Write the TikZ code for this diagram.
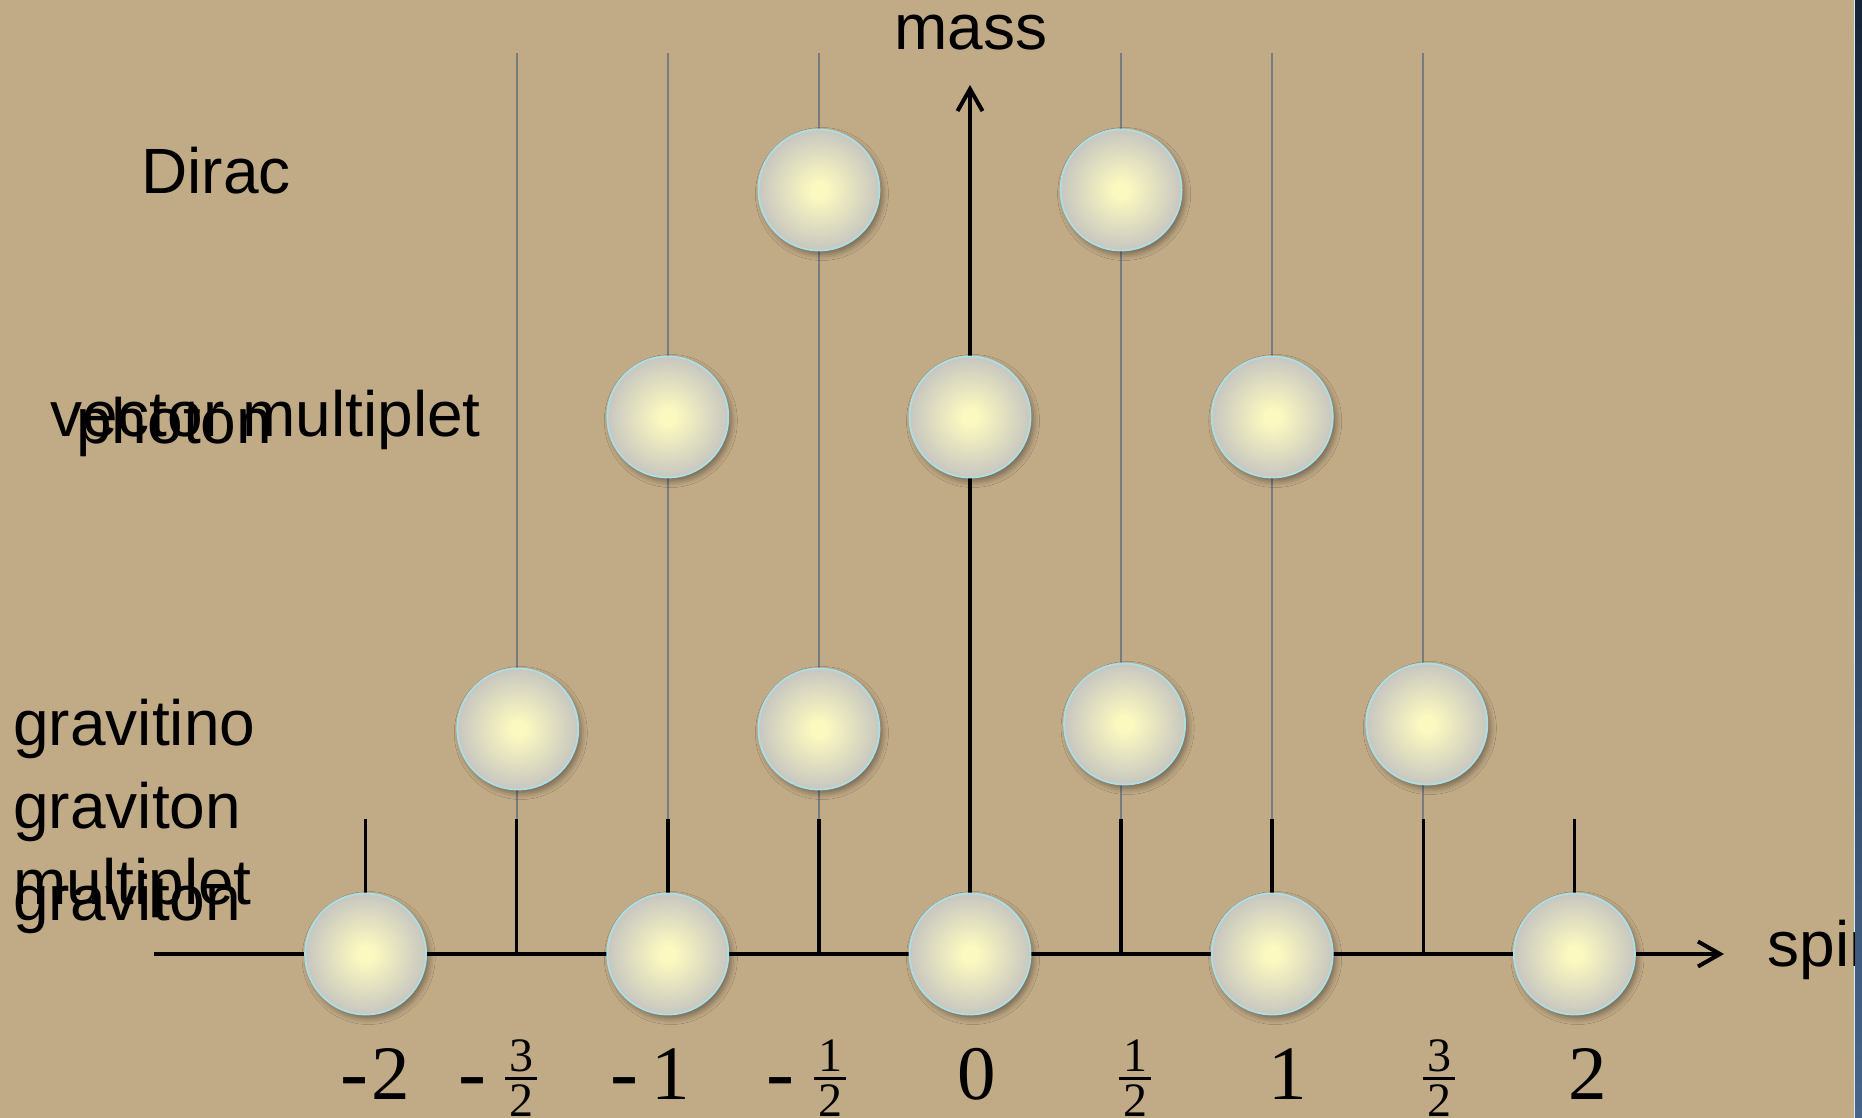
\documentclass[tikz,border=0pt]{standalone}
\usepackage{fontspec}
\setmainfont{Liberation Sans}
\newfontfamily\serifnum{Liberation Serif}
\usetikzlibrary{arrows.meta,shadows.blur}
\definecolor{bg}{RGB}{193,170,134}
\definecolor{ballin}{RGB}{252,249,192}
\definecolor{ballout}{RGB}{192,192,192}
\definecolor{ballrim}{RGB}{172,222,230}
\definecolor{thingray}{RGB}{120,124,130}
\definecolor{stripA}{RGB}{22,36,56}
\definecolor{stripB}{RGB}{70,100,138}
\pgfdeclareradialshading{ballshade}{\pgfpointorigin}{color(0bp)=(ballin); color(3bp)=(ballin); color(28bp)=(ballout); color(50bp)=(ballout)}
\begin{document}
\begin{tikzpicture}[x=0.5pt,y=-0.5pt,
  ball/.style={circle, minimum size=60.5pt, inner sep=0pt, draw=ballrim, line width=0.9pt, shading=ballshade,
    blur shadow={shadow xshift=1.5pt, shadow yshift=-2pt, shadow blur radius=3pt, shadow opacity=40}},
  lbl/.style={anchor=base west, inner sep=0pt, font=\fontsize{32}{38}\selectfont},
  bignum/.style={anchor=base, inner sep=0pt, font=\serifnum\fontsize{38.5}{46}\selectfont},
  minussign/.style={anchor=base, inner sep=0pt, font=\serifnum\fontsize{42}{50}\selectfont},
  smallnum/.style={anchor=base, inner sep=0pt, font=\serifnum\fontsize{24}{29}\selectfont},
  fracbar/.style={draw=black, line width=1.5pt},
  guide/.style={draw=thingray, line width=1pt},
  tickmark/.style={draw=black, line width=1.75pt},
  axisline/.style={draw=black, line width=2pt, -{Straight Barb[length=11pt,width=12.5pt]}}
]
\useasboundingbox (0,0) rectangle (1862,1118);
\fill[bg] (0,0) rectangle (1862,1118);
% right edge strip
\fill[top color=stripA, bottom color=stripB] (1855,0) rectangle (1862,1118);
\draw[draw=ballrim!50!white, line width=0.6pt] (1854.6,0) -- (1854.6,1118);

% coordinates
\foreach \n/\x in {m4/365.6, m3/516.7, m2/667.8, m1/818.9, z0/970, p1/1121.1, p2/1272.2, p3/1423.3, p4/1574.4}{
  \coordinate (top\n) at (\x,53);
  \coordinate (tk\n) at (\x,819);
  \coordinate (ax\n) at (\x,954);
}
% thin guide lines
\foreach \n in {m3,m2,m1,p1,p2,p3}{
  \draw[guide] (top\n) -- (tk\n);
}
% ticks
\foreach \n in {m4,m3,m2,m1,p1,p2,p3,p4}{
  \draw[tickmark] (tk\n) -- (ax\n);
}
% axes
\coordinate (hstart) at (154,954);
\coordinate (hend) at (1724,954);
\coordinate (vend) at (970,85);
\draw[axisline] (hstart) -- (hend);
\draw[axisline] (axz0) -- (vend);

% balls
\node[ball] (d1) at (818.9,190) {};
\node[ball] (d2) at (1121.1,190) {};
\node[ball] (v1) at (667.8,417) {};
\node[ball] (v2) at (970,417) {};
\node[ball] (v3) at (1272.2,417) {};
\node[ball] (g1) at (517.8,729) {};
\node[ball] (g2) at (818.9,729) {};
\node[ball] (g3) at (1124.6,724) {};
\node[ball] (g4) at (1426.8,724) {};
\node[ball] (b1) at (365.6,954) {};
\node[ball] (b2) at (667.8,954) {};
\node[ball] (b3) at (970,954) {};
\node[ball] (b4) at (1272.2,954) {};
\node[ball] (b5) at (1574.4,954) {};

% row labels
\node[lbl] (lmass) at (894,50) {mass};
\node[lbl] (ldirac) at (141,194) {Dirac};
\node[lbl] (lvector) at (50,436) {vector multiplet};
\node[lbl] (lphoton) at (76,443) {photon};
\node[lbl] (lgravitino) at (13,745) {gravitino};
\node[lbl] (lgravitonA) at (13,828) {graviton};
\node[lbl] (lmultiplet) at (13,904) {multiplet};
\node[lbl] (lgravitonB) at (13,920) {graviton};
\begin{scope}
  \clip (0,0) rectangle (1854,1118);
  \node[lbl] (lspin) at (1767,966) {spin};
\end{scope}

% spin values
\node[minussign] (mn4) at (354,1100) {-};
\node[bignum] (n4) at (390.5,1099) {2};
\node[minussign] (mn3) at (472,1100) {-};
\node[smallnum] (n3a) at (521,1071) {3};
\draw[fracbar] (505,1078) -- (537,1078);
\node[smallnum] (n3b) at (521,1116) {2};
\node[minussign] (mn2) at (624.5,1100) {-};
\node[bignum] (n2) at (671,1099) {1};
\node[minussign] (mn1) at (780,1100) {-};
\node[smallnum] (n1a) at (830,1071) {1};
\draw[fracbar] (814,1078) -- (846,1078);
\node[smallnum] (n1b) at (830,1116) {2};
\node[bignum] (n0) at (977,1099) {0};
\node[smallnum] (p1a) at (1135,1071) {1};
\draw[fracbar] (1119,1078) -- (1151,1078);
\node[smallnum] (p1b) at (1135,1116) {2};
\node[bignum] (p2n) at (1288,1099) {1};
\node[smallnum] (p3a) at (1439,1071) {3};
\draw[fracbar] (1423,1078) -- (1455,1078);
\node[smallnum] (p3b) at (1439,1116) {2};
\node[bignum] (p4n) at (1588,1099) {2};
\end{tikzpicture}
\end{document}
